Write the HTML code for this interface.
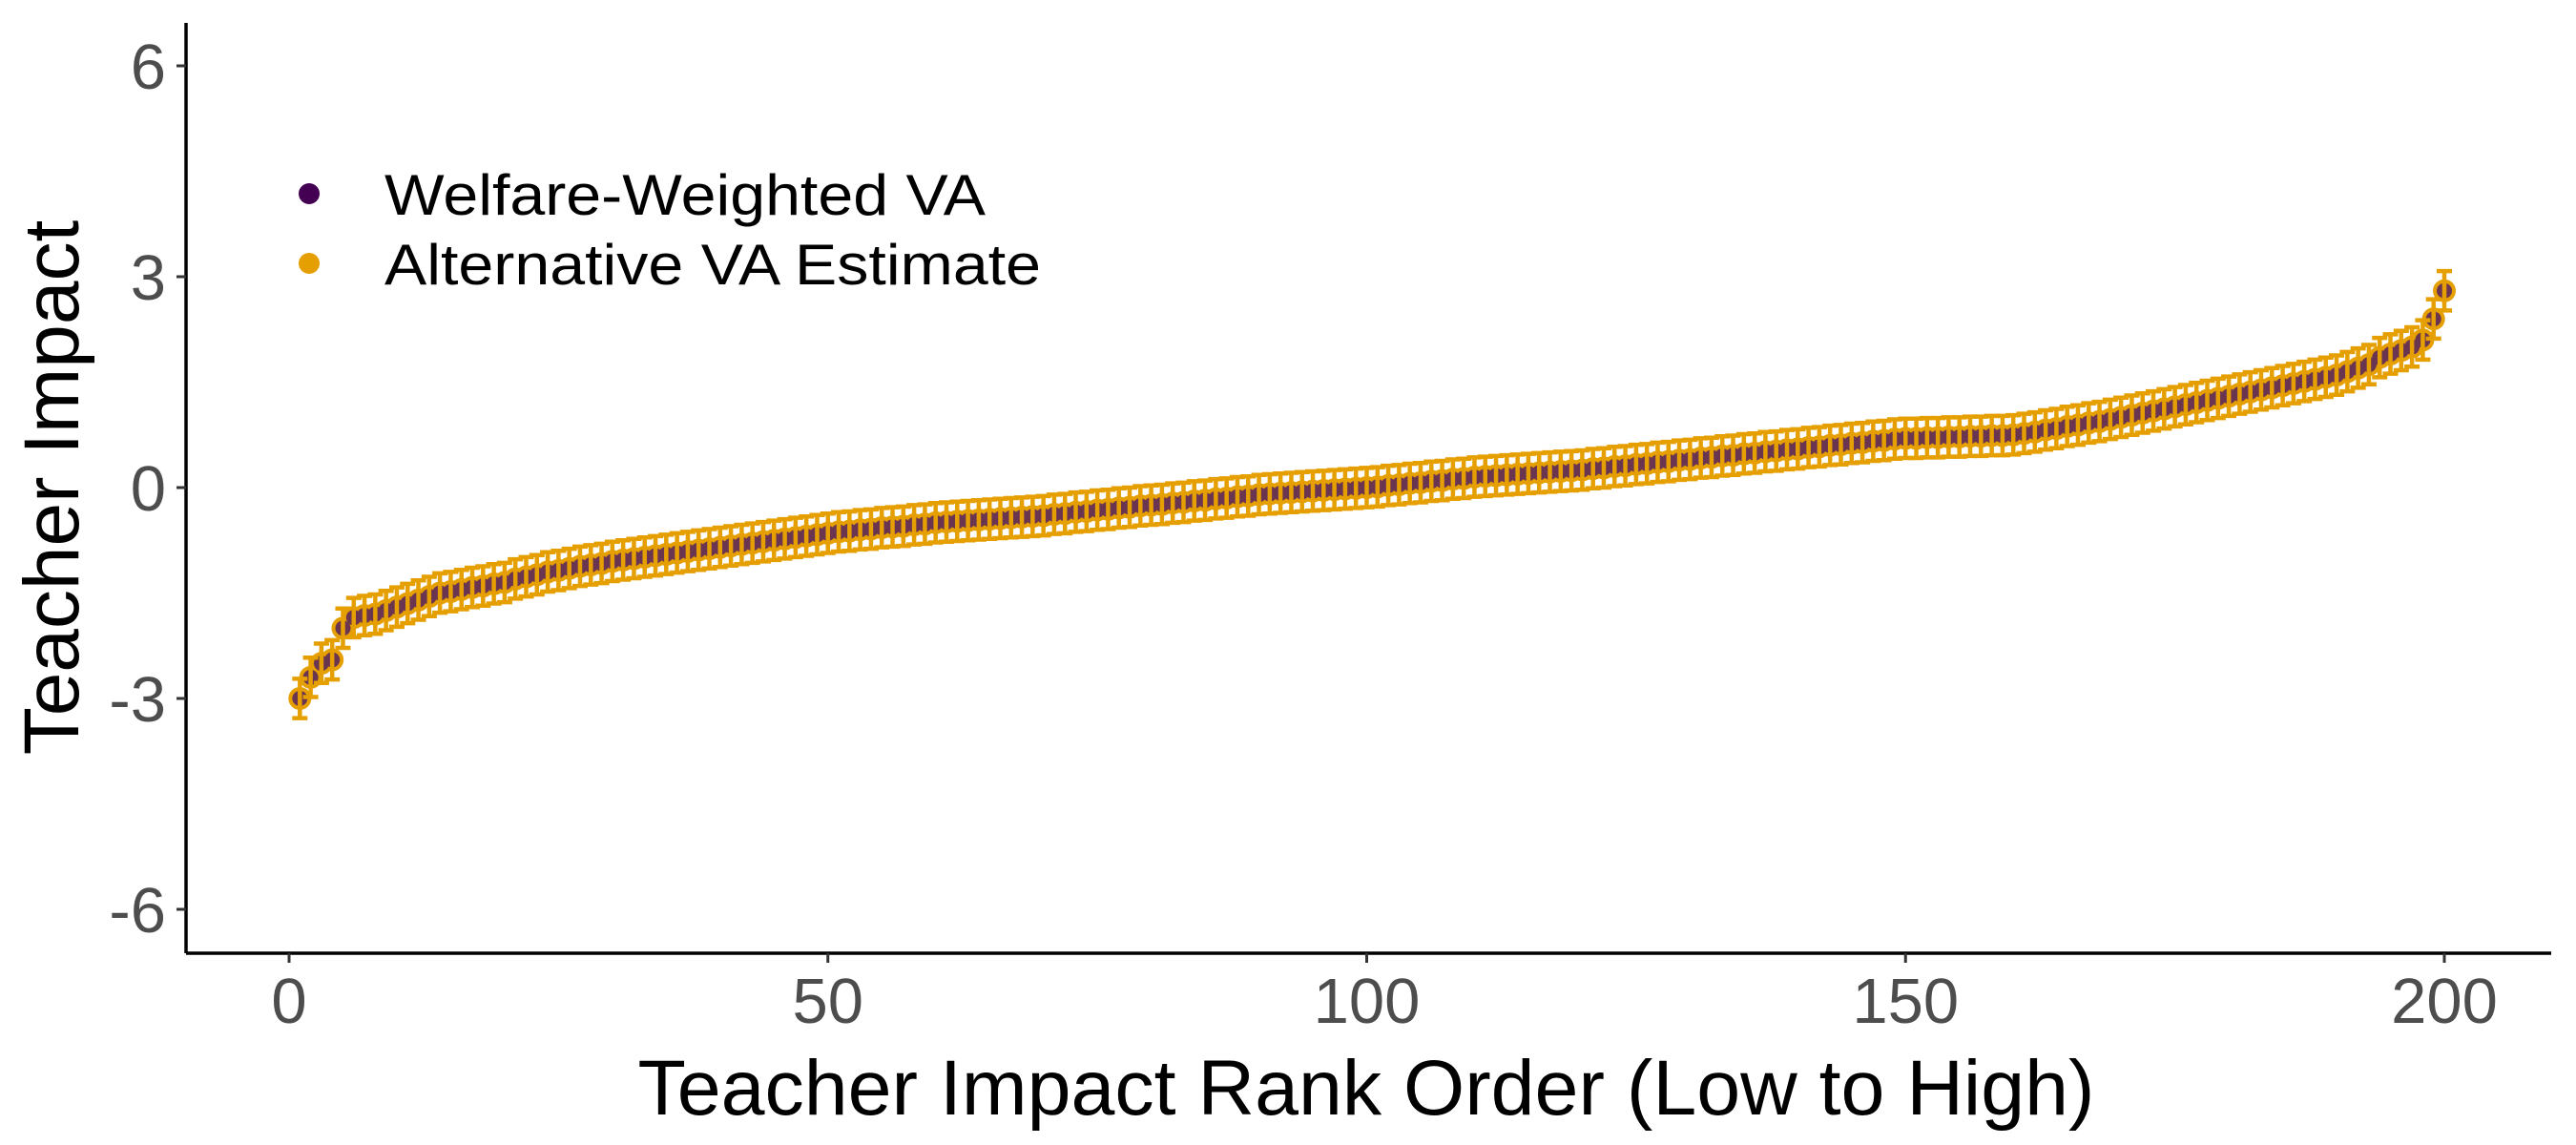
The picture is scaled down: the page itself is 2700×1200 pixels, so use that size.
<!DOCTYPE html>
<html><head><meta charset="utf-8"><style>
html,body{margin:0;padding:0;background:#fff;}
svg{display:block;font-family:"Liberation Sans",Arial,sans-serif;}
</style></head><body>
<svg id="chart" width="2700" height="1200" viewBox="0 0 2700 1200" xmlns="http://www.w3.org/2000/svg">
<g id="axes"></g>
<g id="marks"></g>
<g>
  <circle cx="324" cy="203" r="11" fill="#440154"/>
  <text x="403" y="225" font-size="60" fill="#000" textLength="630" lengthAdjust="spacingAndGlyphs">Welfare-Weighted VA</text>
  <circle cx="324" cy="276" r="11" fill="#E69F00"/>
  <text x="403" y="298" font-size="60" fill="#000" textLength="688" lengthAdjust="spacingAndGlyphs">Alternative VA Estimate</text>
</g>
<text x="1432" y="1168" font-size="82" text-anchor="middle" fill="#000" textLength="1527" lengthAdjust="spacingAndGlyphs">Teacher Impact Rank Order (Low to High)</text>
<text transform="translate(82,511) rotate(-90)" font-size="82" text-anchor="middle" fill="#000">Teacher Impact</text>
</svg>
<script>
const values = [
-3.00,-2.70,-2.50,-2.45,-2.00,-1.85,-1.82,-1.80,-1.75,-1.70,
-1.65,-1.60,-1.55,-1.50,-1.48,-1.45,-1.42,-1.40,-1.37,-1.35,
-1.30,-1.27,-1.24,-1.20,-1.18,-1.15,-1.12,-1.10,-1.08,-1.05,
-1.03,-1.01,-0.99,-0.97,-0.95,-0.93,-0.91,-0.89,-0.87,-0.85,
-0.83,-0.81,-0.79,-0.77,-0.75,-0.73,-0.71,-0.69,-0.67,-0.65,
-0.63,-0.62,-0.60,-0.59,-0.57,-0.56,-0.55,-0.53,-0.52,-0.50,
-0.49,-0.48,-0.47,-0.46,-0.45,-0.44,-0.43,-0.42,-0.41,-0.40,
-0.38,-0.37,-0.35,-0.34,-0.32,-0.31,-0.29,-0.28,-0.26,-0.25,
-0.24,-0.22,-0.21,-0.19,-0.18,-0.16,-0.15,-0.13,-0.12,-0.10,
-0.09,-0.08,-0.07,-0.06,-0.05,-0.04,-0.03,-0.02,-0.01,0.00,
0.01,0.03,0.04,0.06,0.07,0.09,0.10,0.12,0.13,0.15,
0.16,0.17,0.18,0.19,0.20,0.21,0.22,0.23,0.24,0.25,
0.27,0.28,0.30,0.31,0.33,0.34,0.36,0.37,0.39,0.40,
0.42,0.43,0.45,0.46,0.48,0.49,0.51,0.52,0.54,0.55,
0.57,0.58,0.60,0.61,0.63,0.64,0.66,0.67,0.69,0.70,
0.70,0.71,0.71,0.72,0.72,0.73,0.73,0.74,0.74,0.75,
0.77,0.79,0.82,0.84,0.87,0.89,0.92,0.94,0.97,1.00,
1.03,1.06,1.09,1.12,1.15,1.18,1.21,1.24,1.27,1.30,
1.33,1.36,1.39,1.42,1.45,1.48,1.51,1.54,1.57,1.60,
1.65,1.70,1.75,1.85,1.90,1.95,2.00,2.10,2.40,2.80];
const errHalf = [0.28];
const xTicks = [0,50,100,150,200];
const yTicks = [-6,-3,0,3,6];

const NS="http://www.w3.org/2000/svg";
const xS = v => 303 + (v-0)*(2562-303)/200;
const yS = v => 511 - v*(511-69)/6;
function mk(tag, attrs, parent){const e=document.createElementNS(NS,tag);for(const k in attrs)e.setAttribute(k,attrs[k]);parent.appendChild(e);return e;}

const axes=document.getElementById('axes');
let e;
e=mk('line',{x1:195,y1:24,x2:195,y2:999,stroke:'#000','stroke-width':3.5},axes);


e=mk('line',{x1:195,y1:999,x2:2674,y2:999,stroke:'#000','stroke-width':3.5},axes);


xTicks.forEach(t=>{
  const x=xS(t);
  let l=mk('line',{x1:x,y1:999,x2:x,y2:1009,stroke:'#333','stroke-width':3},axes);
  
  
  let tx=mk('text',{x:x,y:1072,'font-size':67,'text-anchor':'middle',fill:'#4d4d4d'},axes);
  tx.textContent=t;
  
  
});
yTicks.forEach(t=>{
  const y=yS(t);
  let l=mk('line',{x1:185,y1:y,x2:195,y2:y,stroke:'#333','stroke-width':3},axes);
  
  
  let tx=mk('text',{x:174,y:y+24,'font-size':67,'text-anchor':'end',fill:'#4d4d4d'},axes);
  tx.textContent=t;
  
  
});

const marks=document.getElementById('marks');
values.forEach((v,i)=>{
  let c=mk('circle',{cx:xS(i+1),cy:yS(v),r:12,fill:'#E69F00'},marks);
  
  
});
values.forEach((v,i)=>{
  let d=mk('circle',{cx:xS(i+1),cy:yS(v),r:8,fill:'#6a3550'},marks);
  
  
});
values.forEach((v,i)=>{
  const x=xS(i+1);
  const y1=yS(v+errHalf[0]), y2=yS(v-errHalf[0]);
  let g=mk('path',{d:`M${x-8},${y1}H${x+8}M${x},${y1}V${y2}M${x-8},${y2}H${x+8}`,stroke:'#E69F00','stroke-width':4.5,fill:'none'},marks);
  
  
});
</script>
</body></html>
